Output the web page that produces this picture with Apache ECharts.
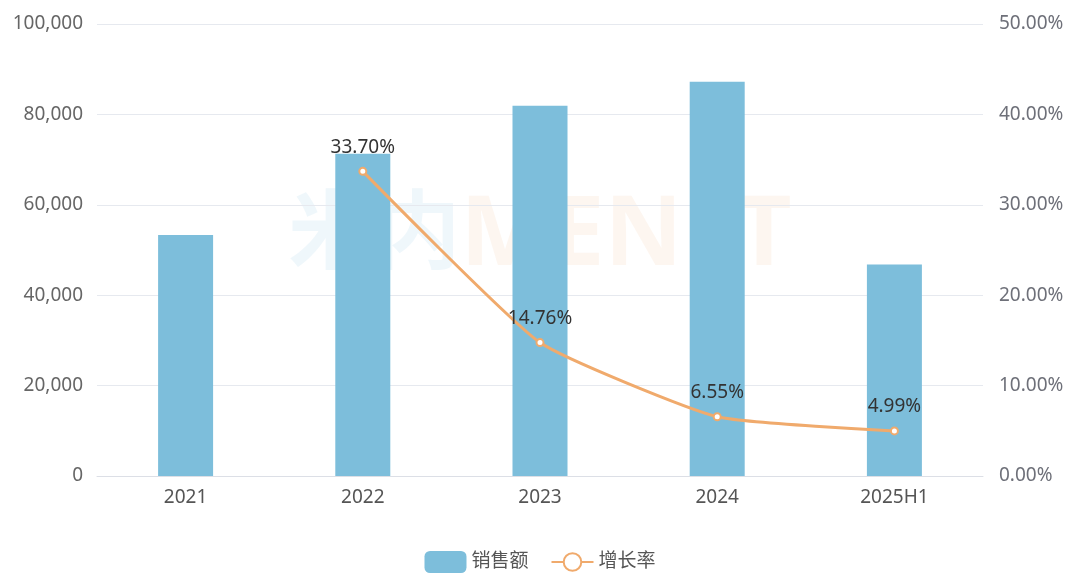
<!DOCTYPE html>
<html><head><meta charset="utf-8">
<script src="https://cdn.jsdelivr.net/npm/echarts@6/dist/echarts.min.js"></script>
<style>html,body{margin:0;padding:0;background:#fff}#c{width:1080px;height:582px}</style>
</head><body><div id="c"></div>
<script>
var categories = ['2021', '2022', '2023', '2024', '2025H1'];
var sales = [53300, 71300, 81900, 87200, 46800];
var growth = [null, 33.70, 14.76, 6.55, 4.99];
var seriesNames = ['销售额', '增长率'];

var chart = echarts.init(document.getElementById('c'));
var font = '"Noto Sans", "Noto Sans CJK SC", sans-serif';
chart.setOption({
  animation: false,
  textStyle: { fontFamily: font },
  graphic: [{
    type: 'text', left: 'center', top: 190, z: 0,
    style: {
      text: '{a|米内}{b|MENET}',
      rich: {
        a: { fontSize: 86, fontWeight: 'bold', fill: 'rgba(125,190,219,0.12)', fontFamily: font },
        b: { fontSize: 96, fontWeight: 'bold', fill: 'rgba(240,170,108,0.10)', fontFamily: font }
      }
    }
  }],
  grid: { left: 97, right: 97, top: 24, bottom: 106 },
  legend: {
    bottom: 4, left: 'center', itemWidth: 42, itemHeight: 22, itemGap: 22,
    textStyle: { fontSize: 19, color: '#555' },
    data: seriesNames
  },
  xAxis: {
    type: 'category', data: categories,
    axisLine: { lineStyle: { color: '#dcdfe6' } },
    axisTick: { show: false },
    axisLabel: { fontSize: 19, color: '#555', margin: 12 }
  },
  yAxis: [{
    type: 'value', min: 0, max: 100000, interval: 20000,
    axisLabel: { fontSize: 19, color: '#666', margin: 14,
      formatter: function (v) { return v.toLocaleString('en-US'); } },
    splitLine: { lineStyle: { color: '#e6e9ef' } },
    axisLine: { show: false }, axisTick: { show: false }
  }, {
    type: 'value', min: 0, max: 50, interval: 10,
    axisLabel: { fontSize: 19, color: '#6e7079', margin: 16,
      formatter: function (v) { return v.toFixed(2) + '%'; } },
    splitLine: { show: false },
    axisLine: { show: false }, axisTick: { show: false }
  }],
  series: [{
    name: seriesNames[0], type: 'bar', data: sales, barWidth: 55,
    itemStyle: { color: '#7dbedb' }, z: 2
  }, {
    name: seriesNames[1], type: 'line', yAxisIndex: 1, data: growth,
    smooth: 0.15, symbol: 'emptyCircle', symbolSize: 7,
    lineStyle: { color: '#f0aa6c', width: 3 },
    itemStyle: { color: '#f0aa6c', borderWidth: 2 },
    label: { show: true, position: 'top', distance: 10, fontSize: 19, color: '#333',
      formatter: function (p) { return p.value.toFixed(2) + '%'; } },
    z: 3
  }]
});
</script></body></html>
